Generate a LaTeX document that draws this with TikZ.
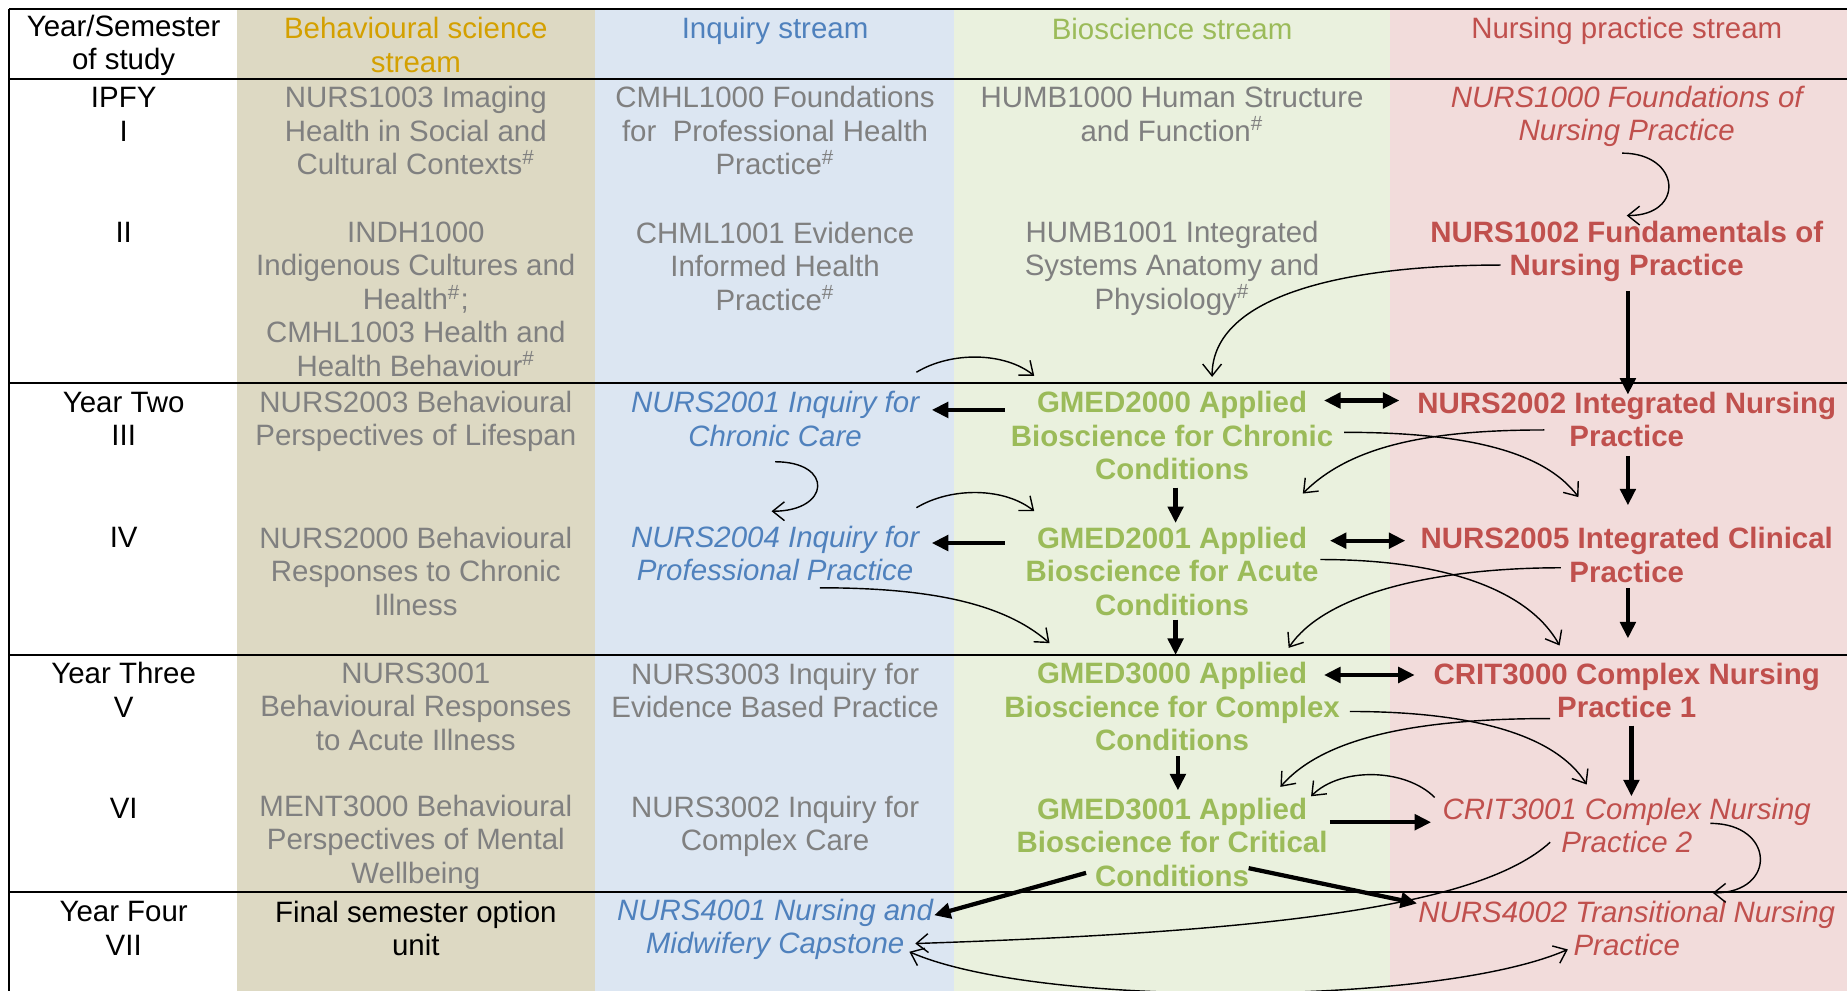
\documentclass[tikz,border=0pt]{standalone}
\usepackage{fontspec}
\setmainfont{Liberation Sans}
\usetikzlibrary{arrows.meta,calc}
\definecolor{beige}{RGB}{221,217,195}
\definecolor{lblue}{RGB}{220,230,242}
\definecolor{lgreen}{RGB}{234,241,222}
\definecolor{lpink}{RGB}{242,220,219}
\definecolor{gold}{RGB}{212,160,0}
\definecolor{iblue}{RGB}{79,129,189}
\definecolor{bgreen}{RGB}{155,187,89}
\definecolor{nred}{RGB}{192,80,77}
\definecolor{gtext}{RGB}{128,128,128}
\newcommand\myfs{\fontsize{12.5}{14.2}\selectfont}
\begin{document}
\begin{tikzpicture}[x=0.5pt,y=-0.5pt,
  every node/.style={font=\myfs, align=center, inner sep=0pt},
  greytxt/.style={text=gtext},
  inqtxt/.style={text=iblue, font=\myfs\itshape},
  biotxt/.style={text=bgreen, font=\myfs\bfseries},
  nrbtxt/.style={text=nred, font=\myfs\bfseries},
  nritxt/.style={text=nred, font=\myfs\itshape},
  rowline/.style={line width=0.9pt},
  fatarrow/.style={line width=1.8pt, -{Triangle[length=7pt,width=6.5pt]}},
  fatdouble/.style={line width=1.8pt, {Triangle[length=7pt,width=6.5pt]}-{Triangle[length=7pt,width=6.5pt]}},
  thinarrow/.style={line width=0.6pt, -{Straight Barb[length=5pt,width=8pt]}},
  thindouble/.style={line width=0.6pt, {Straight Barb[length=5pt,width=8pt]}-{Straight Barb[length=5pt,width=8pt]}},
]
\useasboundingbox (0,0) rectangle (1568,841);
% column backgrounds
\fill[beige] (201,8) rectangle (505,841);
\fill[lblue] (505,8) rectangle (810,841);
\fill[lgreen] (810,8) rectangle (1180,841);
\fill[lpink] (1180,8) rectangle (1568,841);
% rules
\draw[rowline] (8,8) -- (1568,8);
\draw[rowline] (8,67) -- (1568,67);
\draw[rowline] (8,325) -- (1568,325);
\draw[rowline] (8,556) -- (1568,556);
\draw[rowline] (8,757) -- (1568,757);
\draw[rowline] (8,8) -- (8,841);
% header
\node (hyr) at (105,38.5) {Year/Semester\\of study};
\node[text=gold] (hbeh) at (353,38) {Behavioural science\\stream};
\node[text=iblue] (hinq) at (658,26) {Inquiry stream};
\node[text=bgreen] (hbio) at (995,25) {Bioscience stream};
\node[text=nred] (hnur) at (1381,26) {Nursing practice stream};
% year / semester labels
\node (y1) at (105,97) {IPFY\\I};
\node (s2) at (105,197) {II};
\node (y2) at (105,355.5) {Year Two\\III};
\node (s4) at (105,456) {IV};
\node (y3) at (105,585.5) {Year Three\\V};
\node (s6) at (105,686) {VI};
\node (y4) at (105,788) {Year Four\\VII};
% behavioural column
\node[greytxt] (nurs1003) at (353,111) {NURS1003 Imaging\\Health in Social and\\Cultural Contexts\textsuperscript{\#}};
\node[greytxt] (indh1000) at (353,254) {INDH1000\\Indigenous Cultures and\\Health\textsuperscript{\#};\\CMHL1003 Health and\\Health Behaviour\textsuperscript{\#}};
\node[greytxt] (nurs2003) at (353,357.5) {NURS2003 Behavioural\\Perspectives of Lifespan};
\node[greytxt] (nurs2000) at (353,485) {NURS2000 Behavioural\\Responses to Chronic\\Illness};
\node[greytxt] (nurs3001) at (353,600) {NURS3001\\Behavioural Responses\\to Acute Illness};
\node[greytxt] (ment3000) at (353,715) {MENT3000 Behavioural\\Perspectives of Mental\\Wellbeing};
\node (final) at (353,788) {Final semester option\\unit};
% inquiry column
\node[greytxt] (cmhl1000) at (658,111) {CMHL1000 Foundations\\for\ \ Professional Health\\Practice\textsuperscript{\#}};
\node[greytxt] (chml1001) at (658,226) {CHML1001 Evidence\\Informed Health\\Practice\textsuperscript{\#}};
\node[inqtxt] (nurs2001) at (658,355.5) {NURS2001 Inquiry for\\Chronic Care};
\node[inqtxt] (nurs2004) at (658,470) {NURS2004 Inquiry for\\Professional Practice};
\node[greytxt] (nurs3003) at (658,586) {NURS3003 Inquiry for\\Evidence Based Practice};
\node[greytxt] (nurs3002) at (658,701.5) {NURS3002 Inquiry for\\Complex Care};
\node[inqtxt] (nurs4001) at (658,789) {NURS4001 Nursing and\\Midwifery Capstone};
% bioscience column
\node[greytxt] (humb1000) at (995,97) {HUMB1000 Human Structure\\and Function\textsuperscript{\#}};
\node[greytxt] (humb1001) at (995,227.5) {HUMB1001 Integrated\\Systems Anatomy and\\Physiology\textsuperscript{\#}};
\node[biotxt] (gmed2000) at (995,370) {GMED2000 Applied\\Bioscience for Chronic\\Conditions};
\node[biotxt] (gmed2001) at (995,485) {GMED2001 Applied\\Bioscience for Acute\\Conditions};
\node[biotxt] (gmed3000) at (995,600) {GMED3000 Applied\\Bioscience for Complex\\Conditions};
\node[biotxt] (gmed3001) at (995,715) {GMED3001 Applied\\Bioscience for Critical\\Conditions};
% nursing practice column
\node[nritxt] (nurs1000) at (1381,99) {NURS1000 Foundations of\\Nursing Practice};
\node[nrbtxt] (nurs1002) at (1381,213.5) {NURS1002 Fundamentals of\\Nursing Practice};
\node[nrbtxt] (nurs2002) at (1381,356) {NURS2002 Integrated Nursing\\Practice};
\node[nrbtxt] (nurs2005) at (1381,471) {NURS2005 Integrated Clinical\\Practice};
\node[nrbtxt] (crit3000) at (1381,586) {CRIT3000 Complex Nursing\\Practice 1};
\node[nritxt] (crit3001) at (1381,701) {CRIT3001 Complex Nursing\\Practice 2};
\node[nritxt] (nurs4002) at (1381,788) {NURS4002 Transitional Nursing\\Practice};
% thick arrows
\draw[fatarrow] ($(nurs1002)+(1,33.5)$) -- ($(nurs2002)+(1,-21)$);
\draw[fatarrow] ($(gmed2000)+(-142,-22)$) -- ($(nurs2001)+(133,-7.5)$);
\draw[fatdouble] ($(gmed2000)+(129,-30)$) -- ($(nurs2002)+(-193,-16)$);
\draw[fatarrow] ($(nurs2002)+(1,31)$) -- ($(nurs2005)+(1,-42)$);
\draw[fatarrow] ($(gmed2000)+(3,44)$) -- ($(gmed2001)+(3,-41)$);
\draw[fatarrow] ($(gmed2001)+(-142,-24)$) -- ($(nurs2004)+(133,-9)$);
\draw[fatdouble] ($(gmed2001)+(134,-26)$) -- ($(nurs2005)+(-188,-12)$);
\draw[fatarrow] ($(nurs2005)+(1,28)$) -- ($(crit3000)+(1,-44)$);
\draw[fatarrow] ($(gmed2001)+(3,41)$) -- ($(gmed3000)+(3,-44)$);
\draw[fatdouble] ($(gmed3000)+(129,-27)$) -- ($(crit3000)+(-180,-13)$);
\draw[fatarrow] ($(crit3000)+(4,30)$) -- ($(crit3001)+(4,-25)$);
\draw[fatarrow] ($(gmed3000)+(5,42)$) -- ($(gmed3001)+(5,-44)$);
\draw[fatarrow] ($(gmed3001)+(134,-17)$) -- ($(crit3001)+(-166,-3)$);
\draw[fatarrow] ($(gmed3001)+(-73,26)$) -- ($(nurs4001)+(135,-12)$);
\draw[fatarrow] ($(gmed3001)+(65,22)$) -- ($(nurs4002)+(-178,-21)$);
% thin curved arrows
\draw[thinarrow] ($(nurs1000)+(-4,31)$) .. controls +(50,0) and +(50,0) .. ($(nurs1002)+(0,-30.5)$);
\draw[thinarrow] ($(nurs1002)+(-107,11.5)$) .. controls +(-130,0) and +(0,-70) .. ($(gmed2000)+(34,-50)$);
\coordinate (c1) at ($(chml1001)+(120,90)$);
\draw[thinarrow] (c1) .. controls +(30,-18) and +(-25,-20) .. ($(gmed2000)+(-117,-51)$);
\draw[thinarrow] ($(nurs2001)+(0,36.5)$) .. controls +(50,0) and +(50,0) .. ($(nurs2004)+(-3,-36)$);
\coordinate (c2) at ($(nurs2004)+(120,-39)$);
\draw[thinarrow] (c2) .. controls +(30,-18) and +(-25,-20) .. ($(gmed2001)+(-117,-51)$);
\draw[thinarrow] ($(nurs2004)+(38,29)$) .. controls +(90,0) and +(-40,-35) .. ($(gmed3000)+(-104,-54)$);
\draw[thinarrow] ($(gmed2000)+(146,-3)$) .. controls +(100,0) and +(-30,-40) .. ($(nurs2005)+(-41,-49)$);
\draw[thinarrow] ($(nurs2002)+(-70,9)$) .. controls +(-100,0) and +(40,-40) .. ($(gmed2001)+(111,-66)$);
\draw[thinarrow] ($(gmed2001)+(126,-10)$) .. controls +(110,0) and +(-25,-45) .. ($(crit3000)+(-57,-38)$);
\draw[thinarrow] ($(nurs2005)+(-56,11)$) .. controls +(-110,0) and +(30,-45) .. ($(gmed3000)+(99,-50)$);
\draw[thinarrow] ($(gmed3000)+(151,4)$) .. controls +(110,0) and +(-25,-40) .. ($(crit3001)+(-34,-35)$);
\draw[thinarrow] ($(crit3000)+(-65,24)$) .. controls +(-120,0) and +(35,-40) .. ($(gmed3001)+(92,-47)$);
\draw[thinarrow] ($(crit3001)+(-163,-24)$) .. controls +(-25,-25) and +(25,-25) .. ($(gmed3001)+(118,-39)$);
\draw[thinarrow] ($(crit3001)+(71,-2)$) .. controls +(55,0) and +(55,0) .. ($(nurs4002)+(73,-30)$);
\draw[thinarrow] ($(crit3001)+(-65,14)$) .. controls +(-60,55) and +(300,-10) .. ($(nurs4001)+(119,12)$);
\draw[thindouble] ($(nurs4001)+(114,19)$) .. controls +(110,48) and +(-110,48) .. ($(nurs4002)+(-50,18)$);
\end{tikzpicture}
\end{document}
